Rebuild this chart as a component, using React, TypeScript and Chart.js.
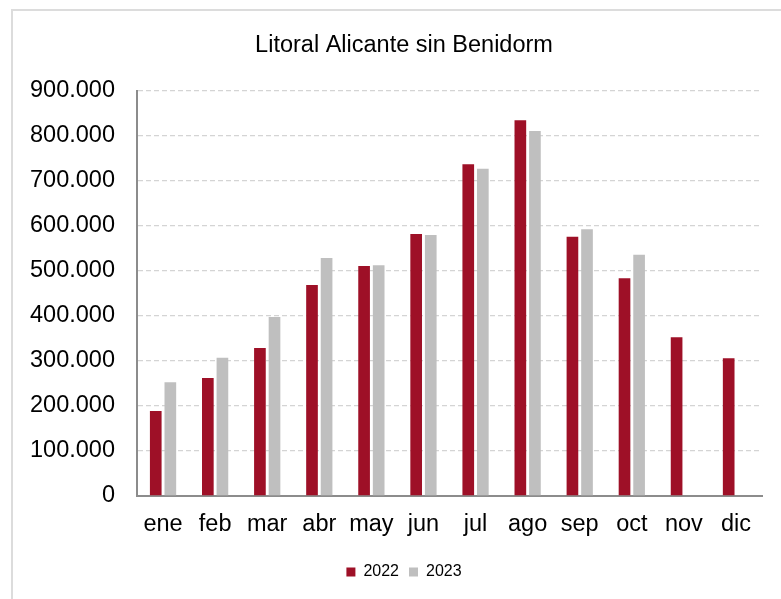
import React, { useEffect, useRef } from 'react';
import { Chart, registerables } from 'chart.js';

Chart.register(...registerables);

const title = 'Litoral Alicante sin Benidorm';
const categories = ['ene', 'feb', 'mar', 'abr', 'may', 'jun', 'jul', 'ago', 'sep', 'oct', 'nov', 'dic'];
const values2022 = [189000, 262000, 329000, 469000, 511000, 582000, 737000, 835000, 576000, 484000, 353000, 306000];
const values2023 = [253000, 307000, 398000, 529000, 513000, 580000, 727000, 811000, 593000, 536000, null, null];
const seriesNames = ['2022', '2023'];
const yMin = 0;
const yMax = 900000;
const yStep = 100000;

const fmt = (v: number) => String(v).replace(/\B(?=(\d{3})+(?!\d))/g, '.');

// Shift the title and legend blocks horizontally so they centre on the full figure width
const shiftBlocks = {
  id: 'shiftBlocks',
  afterLayout(chart: any) {
    const dx = 21.5;
    if (chart.titleBlock) {
      chart.titleBlock.left += dx;
      chart.titleBlock.right += dx;
    }
    if (chart.legend) {
      chart.legend.left += dx;
      chart.legend.right += dx;
    }
  },
};

export default function App() {
  const ref = useRef<HTMLCanvasElement | null>(null);

  useEffect(() => {
    if (!ref.current) return;
    const font = "'Liberation Sans', Arial, sans-serif";
    const chart = new Chart(ref.current, {
      type: 'bar',
      data: {
        labels: categories,
        datasets: [
          {
            label: seriesNames[0],
            data: values2022,
            backgroundColor: '#9e1027',
            borderWidth: 0,
            categoryPercentage: 0.56,
            barPercentage: 0.8,
          },
          {
            label: seriesNames[1],
            data: values2023,
            backgroundColor: '#bfbfbf',
            borderWidth: 0,
            categoryPercentage: 0.56,
            barPercentage: 0.8,
          },
        ],
      },
      plugins: [shiftBlocks],
      options: {
        responsive: false,
        animation: false,
        devicePixelRatio: 1,
        layout: { padding: { left: 0, right: 0, top: 0, bottom: 9 } },
        font: { family: font },
        plugins: {
          title: {
            display: true,
            text: title,
            color: '#000',
            font: { family: font, size: 23.5, weight: 'normal' },
            padding: { top: 31, bottom: 31.8 },
          },
          legend: {
            position: 'bottom',
            labels: {
              color: '#000',
              font: { family: font, size: 16 },
              boxWidth: 9,
              boxHeight: 9,
              padding: 10,
            },
          },
          tooltip: { enabled: false },
        },
        scales: {
          x: {
            grid: { display: false, drawTicks: false },
            border: { display: true, color: '#8c8c8c', width: 2 },
            ticks: { color: '#000', font: { family: font, size: 23.5 }, padding: 14, maxRotation: 0 },
            afterFit: (scale: any) => {
              scale.height = 58;
            },
          },
          y: {
            min: yMin,
            max: yMax,
            grid: { color: '#d4d4d4', lineWidth: 1.3, drawTicks: false },
            border: { display: true, color: '#8c8c8c', width: 2, dash: [5, 3] },
            ticks: {
              stepSize: yStep,
              color: '#000',
              font: { family: font, size: 23.5 },
              padding: 22,
              callback: (v: any) => fmt(Number(v)),
            },
            afterFit: (scale: any) => {
              scale.width = 137;
            },
          },
        },
      },
    });
    return () => chart.destroy();
  }, []);

  return (
    <div
      style={{
        position: 'fixed',
        left: 0,
        top: 0,
        width: 781,
        height: 599,
        overflow: 'hidden',
        background: '#fff',
      }}
    >
      <div
        style={{
          position: 'absolute',
          left: 11,
          top: 9,
          width: 900,
          height: 700,
          border: '2px solid #dcdcdc',
          boxSizing: 'border-box',
        }}
      />
      <canvas
        ref={ref}
        width={765}
        height={599}
        style={{ position: 'absolute', left: 0, top: 0, width: 765, height: 599 }}
      />
    </div>
  );
}
